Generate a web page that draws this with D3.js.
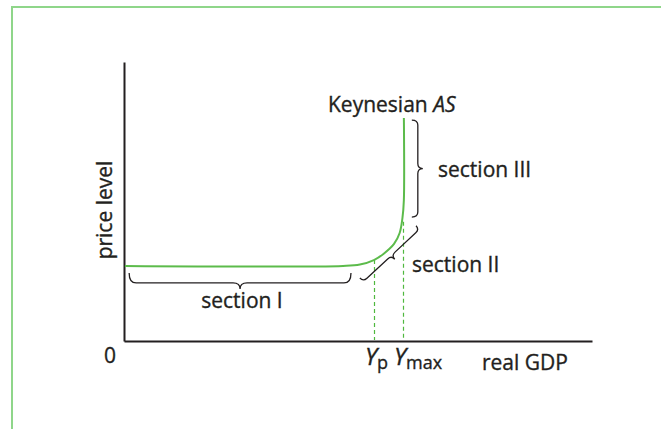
<!DOCTYPE html>
<html>
<head>
<meta charset="utf-8">
<script src="https://cdn.jsdelivr.net/npm/d3@7.9.0/dist/d3.min.js"></script>
<style>
  html, body { margin: 0; padding: 0; background: #fff; }
  svg { display: block; font-family: 'Open Sans', sans-serif; }
  text { fill: #231f20; stroke: #231f20; stroke-width: 0.35; }
</style>
</head>
<body>
<div id="chart"></div>
<script>
// Keynesian AS curve (arbitrary units, 0..100 both ways)
const curveX = [0.2, 46.8, 50.4, 53.4, 55.5, 57.7, 58.9, 59.5, 59.8, 59.8];
const curveY = [26.9, 26.9, 27.4, 29.0, 31.3, 34.8, 38.7, 44.1, 50.5, 79.9];

// potential and maximum output, with the curve height where the guide stops
const markNames = ['p', 'max'];
const markX = [53.4, 59.6];
const markY = [29.0, 42.7];

// braces: start and end in data units
const sectionNames = ['section I', 'section II', 'section III'];
const sectionFrom = [[1.1, 24.4], [50.4, 22.6], [61.5, 44.4]];
const sectionTo = [[48.5, 24.4], [62.4, 41.3], [61.5, 79.2]];

const width = 661;
const height = 429;

const svg = d3.select('#chart')
  .append('svg')
  .attr('width', width)
  .attr('height', height);

// green frame, open to the right and bottom
svg.append('path')
  .attr('d', `M12,${height} V7 H${width}`)
  .attr('fill', 'none')
  .attr('stroke', '#8fd68a')
  .attr('stroke-width', 2);

const xScale = d3.scaleLinear().domain([0, 100]).range([124, 592]);
const yScale = d3.scaleLinear().domain([0, 100]).range([341, 62]);

svg.append('g')
  .attr('transform', `translate(0, ${yScale(0)})`)
  .call(d3.axisBottom(xScale).ticks(0).tickSizeOuter(0));
svg.append('g')
  .attr('transform', `translate(${xScale(0)}, 0)`)
  .call(d3.axisLeft(yScale).ticks(0).tickSizeOuter(0));
svg.selectAll('.domain')
  .attr('stroke', '#231f20')
  .attr('stroke-width', 2);

const green = '#4fb83e';

// dashed guides
svg.append('g')
  .selectAll('line')
  .data(markX)
  .join('line')
  .attr('x1', d => Math.round(xScale(d)) + 0.5)
  .attr('x2', d => Math.round(xScale(d)) + 0.5)
  .attr('y1', (d, i) => yScale(markY[i]))
  .attr('y2', yScale(0) - 1)
  .attr('stroke', green)
  .attr('stroke-width', 1.2)
  .attr('stroke-dasharray', '4,3');

// the AS curve
const pts = curveX.map((x, i) => [x, curveY[i]]);
const line = d3.line()
  .x(d => xScale(d[0]))
  .y(d => yScale(d[1]))
  .curve(d3.curveCatmullRom.alpha(0.5));
svg.append('path')
  .attr('d', line(pts))
  .attr('fill', 'none')
  .attr('stroke', '#5cbb4b')
  .attr('stroke-width', 2);

// curly brace between two pixel points, bulging to the left of travel direction
function bracePath(x1, y1, x2, y2, h, w, r) {
  const len = Math.hypot(x2 - x1, y2 - y1);
  const dx = (x2 - x1) / len, dy = (y2 - y1) / len;
  const nx = -dy, ny = dx;
  const P = (t, s) => `${x1 + dx * t + nx * s},${y1 + dy * t + ny * s}`;
  const m = len / 2;
  return `M${P(0, 0)} Q${P(0, h)} ${P(r, h)} L${P(m - r, h)} Q${P(m, h)} ${P(m, w)}` +
    ` Q${P(m, h)} ${P(m + r, h)} L${P(len - r, h)} Q${P(len, h)} ${P(len, 0)}`;
}

const braceSize = [[10, 16, 7], [5, 10, 5], [6, 11, 5]];
svg.append('g')
  .selectAll('path')
  .data(sectionNames)
  .join('path')
  .attr('d', (d, i) => {
    const [h, w, r] = braceSize[i];
    return bracePath(xScale(sectionFrom[i][0]), yScale(sectionFrom[i][1]),
      xScale(sectionTo[i][0]), yScale(sectionTo[i][1]), h, w, r);
  })
  .attr('fill', 'none')
  .attr('stroke', '#231f20')
  .attr('stroke-width', 1.3);

const fs = 21;
const labelPos = [
  { x: 242, y: 308, anchor: 'middle' },
  { x: 412, y: 272, anchor: 'start' },
  { x: 438, y: 177, anchor: 'start' }
];
svg.append('g')
  .selectAll('text')
  .data(sectionNames)
  .join('text')
  .attr('x', (d, i) => labelPos[i].x)
  .attr('y', (d, i) => labelPos[i].y)
  .attr('text-anchor', (d, i) => labelPos[i].anchor)
  .attr('font-size', fs)
  .text(d => d);

// curve label
const ks = svg.append('text')
  .attr('x', 328)
  .attr('y', 112)
  .attr('font-size', fs);
ks.append('tspan').text('Keynesian ');
ks.append('tspan').attr('font-style', 'italic').text('AS');

// axis titles
svg.append('text')
  .attr('transform', 'translate(112, 210) rotate(-90)')
  .attr('text-anchor', 'middle')
  .attr('font-size', fs)
  .text('price level');

svg.append('text')
  .attr('x', 110)
  .attr('y', 363)
  .attr('text-anchor', 'middle')
  .attr('font-size', fs)
  .text('0');

svg.append('text')
  .attr('x', 482)
  .attr('y', 370)
  .attr('font-size', fs)
  .text('real GDP');

// Y_p and Y_max under the guides
const ylab = svg.append('g')
  .selectAll('text')
  .data(markNames)
  .join('text')
  .attr('x', (d, i) => xScale(markX[i]) - 9)
  .attr('y', 365)
  .attr('font-size', 24);
ylab.append('tspan').attr('font-style', 'italic').text('Y');
ylab.append('tspan')
  .attr('font-size', 18)
  .attr('dy', 4)
  .text(d => d);
</script>
</body>
</html>
